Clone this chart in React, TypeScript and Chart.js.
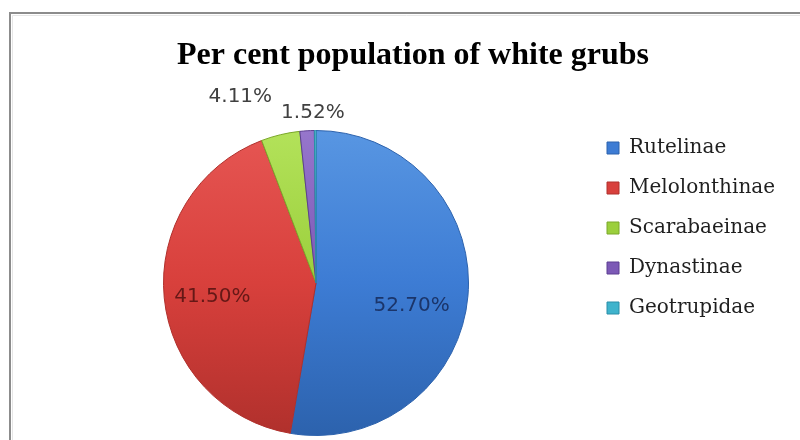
import React, { useEffect, useRef } from "react";
import { Chart, registerables } from "chart.js";

Chart.register(...registerables);

const TITLE = "Per cent population of white grubs";
const categories = ["Rutelinae", "Melolonthinae", "Scarabaeinae", "Dynastinae", "Geotrupidae"];
const percentValues = [52.7, 41.5, 4.11, 1.52, 0.17];
const shownLabels = [true, true, true, true, false];

const baseColors = ["#3d7cd4", "#d8403c", "#9bcf3c", "#7c59b6", "#3fb3cc"];
const lightColors = ["#5896e2", "#e65653", "#b3e25a", "#9676cc", "#62c8dc"];
const darkColors = ["#2c62ad", "#b0302c", "#7ba82a", "#5d3f92", "#2a8ea8"];
const labelColors = ["#1b356a", "#651816", "#404040", "#404040", "#404040"];

// label placement relative to slice: radius factor and angular shift (deg)
const labelRadiusFactor = [0.645, 0.686, 1.32, 1.118, 1.2];
const labelAngleShift = [8.6, -2.1, -8.6, 2.3, 0];

const framePlugin = {
  id: "frame",
  beforeDraw(chart: any) {
    const { ctx, width, height } = chart;
    ctx.save();
    ctx.fillStyle = "#ffffff";
    ctx.fillRect(0, 0, width, height);
    ctx.strokeStyle = "#8c8c8c";
    ctx.lineWidth = 2;
    ctx.beginPath();
    ctx.moveTo(10, height);
    ctx.lineTo(10, 13);
    ctx.lineTo(width, 13);
    ctx.stroke();
    ctx.strokeStyle = "#e6e6e6";
    ctx.lineWidth = 1;
    ctx.beginPath();
    ctx.moveTo(12.5, height);
    ctx.lineTo(12.5, 15.5);
    ctx.lineTo(width, 15.5);
    ctx.stroke();
    ctx.restore();
  },
};

const sliceLabelPlugin = {
  id: "sliceLabels",
  afterDatasetsDraw(chart: any) {
    const ctx = chart.ctx;
    const meta = chart.getDatasetMeta(0);
    ctx.save();
    ctx.font = '20px "DejaVu Sans"';
    ctx.textAlign = "center";
    ctx.textBaseline = "middle";
    meta.data.forEach((arc: any, i: number) => {
      if (!shownLabels[i]) return;
      const { x, y, startAngle, endAngle, outerRadius } = arc.getProps(
        ["x", "y", "startAngle", "endAngle", "outerRadius"],
        true
      );
      const a = (startAngle + endAngle) / 2 + (labelAngleShift[i] * Math.PI) / 180;
      const r = outerRadius * labelRadiusFactor[i];
      ctx.fillStyle = labelColors[i];
      ctx.fillText(percentValues[i].toFixed(2) + "%", x + r * Math.cos(a), y + r * Math.sin(a));
    });
    ctx.restore();
  },
};

function sliceFill(c: any) {
  const i = c.dataIndex;
  const chart = c.chart;
  const area = chart.chartArea;
  if (!area) return baseColors[i];
  const g = chart.ctx.createLinearGradient(0, area.top, 0, area.bottom);
  g.addColorStop(0, lightColors[i]);
  g.addColorStop(0.5, baseColors[i]);
  g.addColorStop(1, darkColors[i]);
  return g;
}

export default function App() {
  const canvasRef = useRef<HTMLCanvasElement | null>(null);

  useEffect(() => {
    document.body.style.margin = "0";
    const canvas = canvasRef.current;
    if (!canvas) return;
    const chart = new Chart(canvas, {
      type: "pie",
      data: {
        labels: categories,
        datasets: [
          {
            data: percentValues,
            backgroundColor: sliceFill as any,
            borderColor: darkColors,
            borderWidth: 1,
          },
        ],
      },
      options: {
        responsive: false,
        animation: false,
        layout: { padding: { left: 45, right: 19, top: 20, bottom: 4 } },
        plugins: {
          title: {
            display: true,
            text: TITLE,
            color: "#000000",
            font: { family: '"Liberation Serif", "Times New Roman", serif', size: 32, weight: "bold", lineHeight: 1.2 },
            padding: { top: 17, bottom: 54.6 },
          },
          legend: {
            display: true,
            position: "right",
            maxWidth: 194,
            labels: {
              boxWidth: 12,
              boxHeight: 12,
              padding: 20,
              color: "#1f1f1f",
              font: { family: '"DejaVu Serif", serif', size: 20 },
              generateLabels: (chart: any) =>
                chart.data.labels.map((lab: string, i: number) => ({
                  text: lab,
                  fillStyle: baseColors[i],
                  strokeStyle: darkColors[i],
                  lineWidth: 1,
                  hidden: false,
                  index: i,
                  fontColor: "#1f1f1f",
                })),
            },
          },
          tooltip: { enabled: false },
        },
      },
      plugins: [framePlugin, sliceLabelPlugin],
    });
    return () => chart.destroy();
  }, []);

  return (
    <div style={{ position: "absolute", left: 0, top: 0, width: 800, height: 440 }}>
      <canvas ref={canvasRef} width={800} height={440} style={{ display: "block" }} />
    </div>
  );
}
